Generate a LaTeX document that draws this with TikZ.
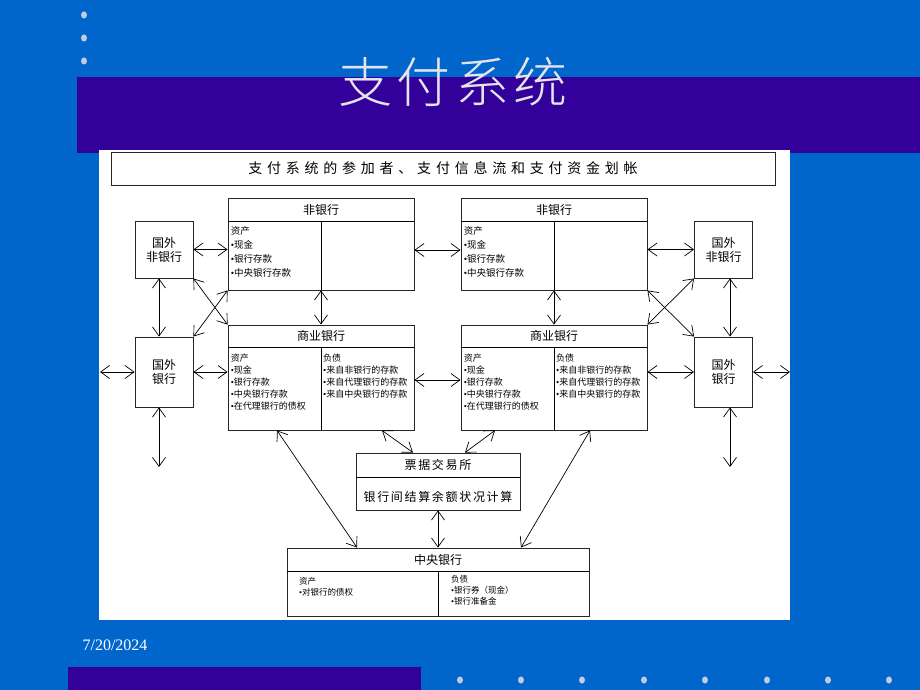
\documentclass[tikz,border=0pt]{standalone}
\usepackage{fontspec}
\newfontfamily\cjk{Noto Sans CJK SC}
\newfontfamily\cjkwide[LetterSpace=34]{Noto Sans CJK SC}
\newfontfamily\cjkmid[LetterSpace=14]{Noto Sans CJK SC}
\newfontfamily\cjktitle[LetterSpace=8]{Noto Sans CJK SC Light}
\newfontfamily\datefont{Liberation Serif}
\newcommand\bul{{\datefont •}}
\usetikzlibrary{arrows.meta}
\definecolor{slideblue}{HTML}{0066CC}
\definecolor{bandpurple}{HTML}{330099}
\definecolor{dotgray}{HTML}{C4CCE0}
\definecolor{titlegray}{HTML}{E4E4EC}
\begin{document}
\begin{tikzpicture}[x=1pt,y=-1pt,
    box/.style={draw=black!85, line width=0.9pt, fill=white, inner sep=0pt},
    head/.style={font=\cjk\fontsize{12}{14}\selectfont},
    item/.style={font=\cjk\fontsize{9}{12}\selectfont, align=left, anchor=north west, inner sep=0pt},
    arr/.style={<->, >={Straight Barb[length=9pt,width=13pt]}, line width=0.7pt}]
    % Fondo
    \useasboundingbox (0,0) rectangle (920,690);
    \fill[slideblue] (0,0) rectangle (920,690);
    \fill[bandpurple] (77,77) rectangle (920,153);
    \fill[bandpurple] (68,667) rectangle (421,690);
    \foreach \y in {15,38,61} \fill[dotgray] (84,\y) ellipse (3 and 3.5);
    \foreach \x in {460,521,582,644,705,767,828,889} \fill[dotgray] (\x,680) ellipse (3 and 3.5);
    \node[font=\cjktitle\fontsize{54}{58}\selectfont, text=titlegray] (title) at (453,82) {支付系统};
    \node[font=\datefont\fontsize{16}{18}\selectfont, text=white] (date) at (115,645) {7/20/2024};
    % Panel
    \fill[white] (99,150) rectangle (790,620);
    \node[box, minimum width=664pt, minimum height=33pt, font=\cjkwide\fontsize{14}{16}\selectfont] (hdr) at (443,168.5) {支付系统的参加者、支付信息流和支付资金划帐};
    % Non-banks
    \foreach \n/\x in {nbL/321, nbR/554} {
        \node[box, minimum width=186pt, minimum height=92pt] (\n) at (\x,244) {};
        \draw[line width=0.9pt] ([yshift=-24pt]\n.north west) -- ([yshift=-24pt]\n.north east);
        \draw[line width=0.9pt] ([yshift=-24pt]\n.north) -- (\n.south);
        \node[head] at ([yshift=-12pt]\n.north) {非银行};
        \node[item, font=\cjk\fontsize{9.5}{14}\selectfont] at ([xshift=3pt,yshift=-29pt]\n.north west) {资产\\\bul 现金\\\bul 银行存款\\\bul 中央银行存款};
    }
    % Commercial banks
    \foreach \n/\x in {cbL/321, cbR/554} {
        \node[box, minimum width=186pt, minimum height=105pt] (\n) at (\x,377.5) {};
        \draw[line width=0.9pt] ([yshift=-23pt]\n.north west) -- ([yshift=-23pt]\n.north east);
        \draw[line width=0.9pt] ([yshift=-23pt]\n.north) -- (\n.south);
        \node[head] at ([yshift=-11.5pt]\n.north) {商业银行};
        \node[item] at ([xshift=3pt,yshift=-29pt]\n.north west) {资产\\\bul 现金\\\bul 银行存款\\\bul 中央银行存款\\\bul 在代理银行的债权};
        \node[item] at ([xshift=2pt,yshift=-29pt]\n.north) {负债\\\bul 来自非银行的存款\\\bul 来自代理银行的存款\\\bul 来自中央银行的存款};
    }
    % Foreign
    \node[box, minimum width=58pt, minimum height=57pt, head, align=center] (fnbL) at (164,249.5) {国外\\非银行};
    \node[box, minimum width=58pt, minimum height=57pt, head, align=center] (fnbR) at (723.5,249.5) {国外\\非银行};
    \node[box, minimum width=58pt, minimum height=70pt, head, align=center] (fbL) at (164,372) {国外\\银行};
    \node[box, minimum width=58pt, minimum height=70pt, head, align=center] (fbR) at (723.5,372) {国外\\银行};
    % Clearing house
    \node[box, minimum width=164pt, minimum height=57pt] (ch) at (438,481.5) {};
    \draw[line width=0.9pt] ([yshift=-25pt]ch.north west) -- ([yshift=-25pt]ch.north east);
    \node[head, font=\cjkmid\fontsize{12}{14}\selectfont] at ([yshift=-12.5pt]ch.north) {票据交易所};
    \node[head, font=\cjkmid\fontsize{12}{14}\selectfont] at ([yshift=14pt]ch.south) {银行间结算余额状况计算};
    % Central bank
    \node[box, minimum width=302pt, minimum height=68pt] (cb) at (438,582) {};
    \draw[line width=0.9pt] ([yshift=-24pt]cb.north west) -- ([yshift=-24pt]cb.north east);
    \draw[line width=0.9pt] ([yshift=-24pt]cb.north) -- (cb.south);
    \node[head] at ([yshift=-12pt]cb.north) {中央银行};
    \node[item, font=\cjk\fontsize{8.5}{11}\selectfont] at (299,577) {资产\\\bul 对银行的债权};
    \node[item, font=\cjk\fontsize{8.5}{11}\selectfont] at (451,575) {负债\\\bul 银行券（现金）\\\bul 银行准备金};
    % Free ends
    \coordinate (outW) at (100,372);
    \coordinate (outE) at (790,372);
    \coordinate (downL) at (159,467);
    \coordinate (downR) at (730,467);
    % Arrows
    \draw[arr] (fnbL.east) -- (fnbL.east -| nbL.west);
    \draw[arr] ([yshift=-6pt]nbL.east) -- ([yshift=-6pt]nbR.west);
    \draw[arr] (fnbR.west -| nbR.east) -- (fnbR.west);
    \draw[arr] ([xshift=-5pt]fnbL.south) -- ([xshift=-5pt]fbL.north);
    \draw[arr] ([xshift=6.5pt]fnbR.south) -- ([xshift=6.5pt]fbR.north);
    \draw[arr] (nbL.south) -- (cbL.north);
    \draw[arr] (nbR.south) -- (cbR.north);
    \draw[arr] (fnbL.south east) -- (cbL.north west);
    \draw[arr] (nbL.south west) -- (fbL.north east);
    \draw[arr] (nbR.south east) -- (fbR.north west);
    \draw[arr] (fnbR.south west) -- (cbR.north east);
    \draw[arr] (fbL.west) -- (outW);
    \draw[arr] (fbL.east) -- (fbL.east -| cbL.west);
    \draw[arr] ([yshift=-2.5pt]cbL.east) -- ([yshift=-2.5pt]cbR.west);
    \draw[arr] (fbR.west -| cbR.east) -- (fbR.west);
    \draw[arr] (fbR.east) -- (outE);
    \draw[arr] ([xshift=-5pt]fbL.south) -- (downL);
    \draw[arr] ([xshift=6.5pt]fbR.south) -- (downR);
    \draw[arr] ([xshift=-44pt]cbL.south) -- ([xshift=-81pt]cb.north);
    \draw[arr] ([xshift=61pt]cbL.south) -- ([xshift=-25pt]ch.north);
    \draw[arr] ([xshift=-59pt]cbR.south) -- ([xshift=27pt]ch.north);
    \draw[arr] ([xshift=36pt]cbR.south) -- ([xshift=83pt]cb.north);
    \draw[arr] (ch.south) -- (cb.north);
\end{tikzpicture}
\end{document}
